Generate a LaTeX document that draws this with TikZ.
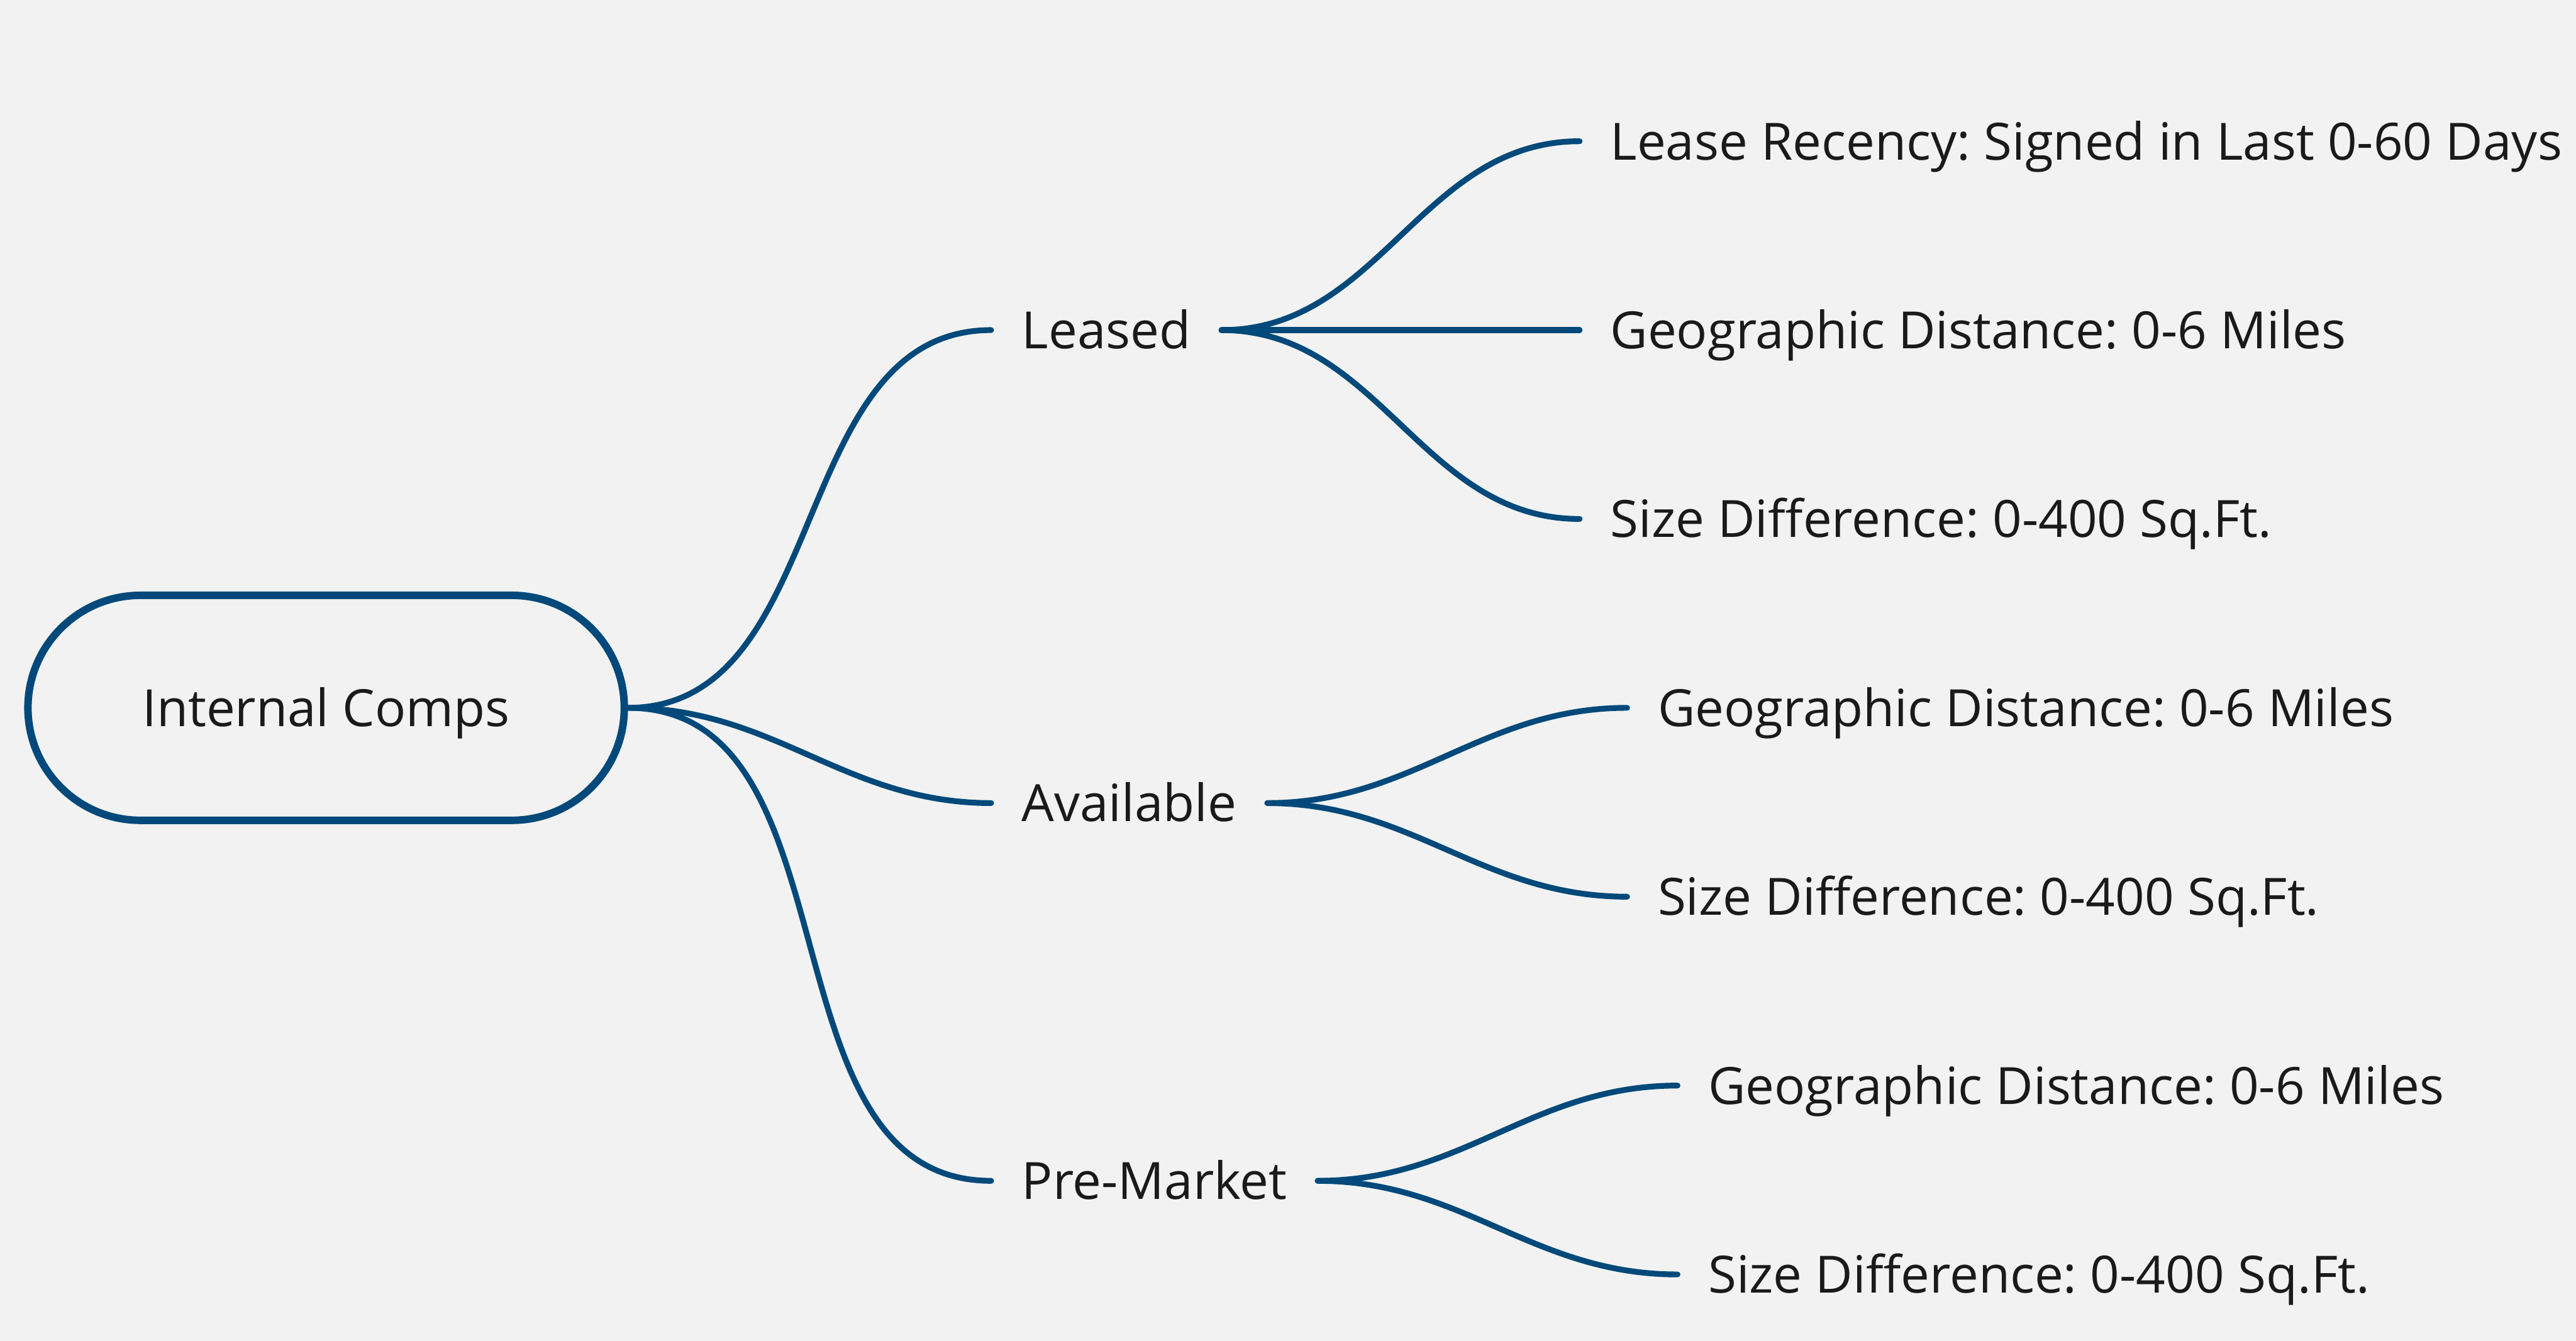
\documentclass[tikz,border=0pt]{standalone}
\usepackage{fontspec}
\setmainfont{Open Sans}
\usetikzlibrary{positioning}

\definecolor{mapblue}{HTML}{00497A}
\definecolor{pagegray}{HTML}{F2F2F2}
\definecolor{inkgray}{HTML}{1A1A1A}

\frenchspacing

\begin{document}
\begin{tikzpicture}[
    font=\fontsize{8.9pt}{10.7pt}\selectfont,
    topic/.style={draw=mapblue, line width=1.3pt, fill=pagegray, text=inkgray,
        rounded corners=0.685cm, minimum width=3.63cm, minimum height=1.37cm,
        text height=0.225cm, text depth=0pt},
    branch/.style={text=inkgray, inner xsep=0.18cm, inner ysep=0pt,
        text height=0.225cm, text depth=0pt},
    link/.style={draw=mapblue, line width=1pt, line cap=round}
]

% Page background
\fill[pagegray] (0,0) rectangle (15.68,8.165);
\useasboundingbox (0,0) rectangle (15.68,8.165);

% Root topic
\node[topic] (root) at (1.985,3.855) {Internal Comps};

% First level
\node[branch, right=2.21cm of root, yshift=2.30cm] (leased) {Leased};
\node[branch, right=2.21cm of root, yshift=-0.58cm] (avail) {Available};
\node[branch, right=2.21cm of root, yshift=-2.88cm] (premkt) {Pre-Market};

% Leased criteria
\node[branch, right=2.18cm of leased, yshift=1.15cm] (lrecency) {Lease Recency: Signed in Last 0-60 Days};
\node[branch, right=2.18cm of leased] (ldist) {Geographic Distance: 0-6 Miles};
\node[branch, right=2.18cm of leased, yshift=-1.15cm] (lsize) {Size Difference: 0-400 Sq.Ft.};

% Available criteria
\node[branch, right=2.19cm of avail, yshift=0.58cm] (adist) {Geographic Distance: 0-6 Miles};
\node[branch, right=2.19cm of avail, yshift=-0.57cm] (asize) {Size Difference: 0-400 Sq.Ft.};

% Pre-Market criteria
\node[branch, right=2.19cm of premkt, yshift=0.58cm] (pdist) {Geographic Distance: 0-6 Miles};
\node[branch, right=2.19cm of premkt, yshift=-0.57cm] (psize) {Size Difference: 0-400 Sq.Ft.};

% Draw links from root
\draw[link] (root.east) to[out=0, in=180] (leased.west);
\draw[link] (root.east) to[out=0, in=180] (avail.west);
\draw[link] (root.east) to[out=0, in=180] (premkt.west);

% Draw links from Leased
\draw[link] (leased.east) to[out=0, in=180] (lrecency.west);
\draw[link] (leased.east) -- (ldist.west);
\draw[link] (leased.east) to[out=0, in=180] (lsize.west);

% Draw links from Available
\draw[link] (avail.east) to[out=0, in=180] (adist.west);
\draw[link] (avail.east) to[out=0, in=180] (asize.west);

% Draw links from Pre-Market
\draw[link] (premkt.east) to[out=0, in=180] (pdist.west);
\draw[link] (premkt.east) to[out=0, in=180] (psize.west);

\end{tikzpicture}
\end{document}
